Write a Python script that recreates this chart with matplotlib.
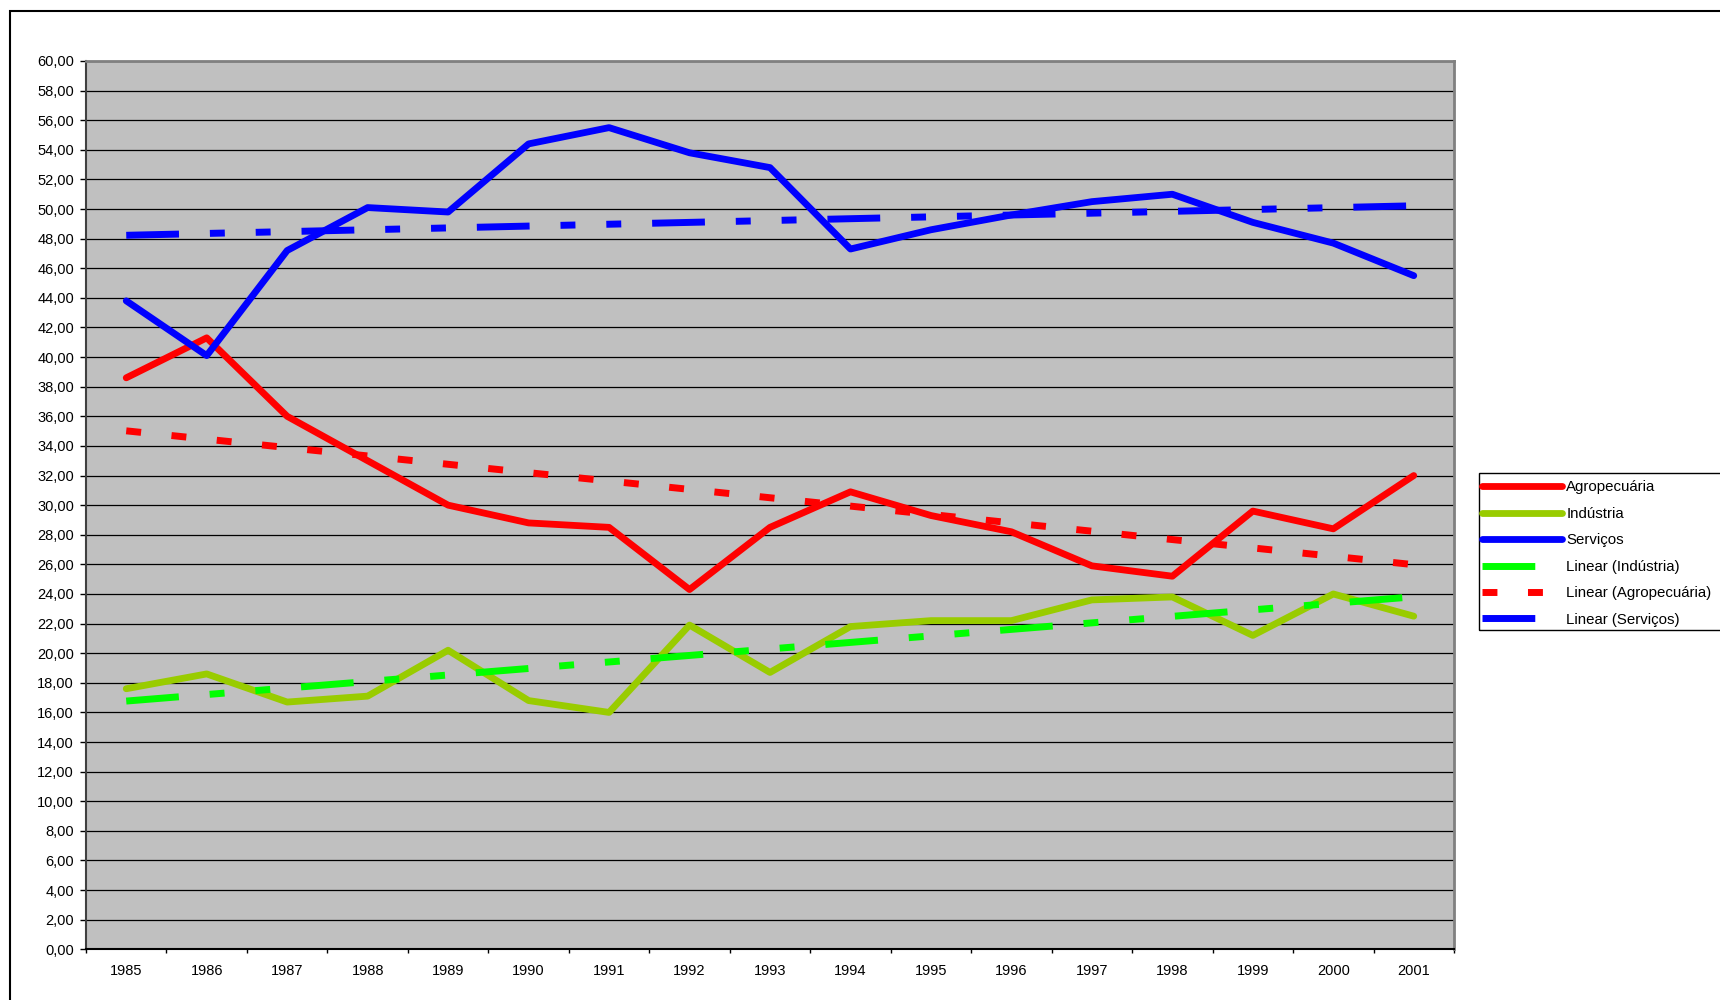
import matplotlib.pyplot as plt
import numpy as np
from matplotlib.patches import Rectangle

plt.rcParams['font.family'] = ['Liberation Sans', 'DejaVu Sans']

# dados (%)
anos = ['1985', '1986', '1987', '1988', '1989', '1990', '1991', '1992', '1993',
        '1994', '1995', '1996', '1997', '1998', '1999', '2000', '2001']
agropecuaria = [38.6, 41.3, 36.0, 33.0, 30.0, 28.8, 28.5, 24.3, 28.5,
                30.9, 29.3, 28.2, 25.9, 25.2, 29.6, 28.4, 32.0]
industria = [17.6, 18.6, 16.7, 17.1, 20.2, 16.8, 16.0, 21.9, 18.7,
             21.8, 22.2, 22.2, 23.6, 23.8, 21.2, 24.0, 22.5]
servicos = [43.8, 40.1, 47.2, 50.1, 49.8, 54.4, 55.5, 53.8, 52.8,
            47.3, 48.6, 49.6, 50.5, 51.0, 49.1, 47.7, 45.5]

W, H = 1720, 1000
fig = plt.figure(figsize=(W / 100, H / 100), dpi=100)
ax = fig.add_axes([86 / W, 50.7 / H, 1368 / W, 888.3 / H])
ax.set_facecolor('#C0C0C0')

x = np.arange(len(anos))

# series
l_agro, = ax.plot(x, agropecuaria, color='#FF0000', lw=4.9,
                  solid_capstyle='round', solid_joinstyle='round', label='Agropecuária')
l_ind, = ax.plot(x, industria, color='#99CC00', lw=4.9,
                 solid_capstyle='round', solid_joinstyle='round', label='Indústria')
l_serv, = ax.plot(x, servicos, color='#0000FF', lw=4.9,
                  solid_capstyle='round', solid_joinstyle='round', label='Serviços')

# linhas de tendencia (regressao linear, como no Excel)
def tendencia(y):
    a, b = np.polyfit(x, y, 1)
    return a * x + b

longo_ponto_ponto = (0, (7.6, 4.45, 2.15, 4.45, 2.15, 4.45))
quadrado = (0, (2.15, 4.4))

t_ind, = ax.plot(x, tendencia(industria), color='#00FF00', lw=5,
                 linestyle=longo_ponto_ponto, dash_capstyle='butt', label='Linear (Indústria)')
t_agro, = ax.plot(x, tendencia(agropecuaria), color='#FF0000', lw=5,
                  linestyle=quadrado, dash_capstyle='butt', label='Linear (Agropecuária)')
t_serv, = ax.plot(x, tendencia(servicos), color='#0000FF', lw=5,
                  linestyle=longo_ponto_ponto, dash_capstyle='butt', label='Linear (Serviços)')

# eixos
ax.set_xlim(-0.5, len(anos) - 0.5)
ax.set_ylim(0, 60)
yt = np.arange(0, 61, 2)
ax.set_yticks(yt, [f'{v:.2f}'.replace('.', ',') for v in yt])
ax.set_xticks(x, anos)
ax.set_xticks(np.arange(-0.5, len(anos), 1), minor=True)
ax.yaxis.grid(True, color='black', lw=0.9)
ax.set_axisbelow(True)

ax.tick_params(axis='x', which='major', length=0, pad=10.5, labelsize=10.5)
ax.tick_params(axis='x', which='minor', length=3, width=1, direction='out', color='black')
ax.tick_params(axis='y', length=4.3, width=1, pad=4.3, labelsize=10.5, color='black')

ax.spines['left'].set_color('#404040')
ax.spines['left'].set_linewidth(1.5)
ax.spines['bottom'].set_color('black')
ax.spines['bottom'].set_linewidth(1.5)
for s in ['top', 'right']:
    ax.spines[s].set_color('#808080')
    ax.spines[s].set_linewidth(2)

# legenda
handles = [l_agro, l_ind, l_serv, t_ind, t_agro, t_serv]
fig.legend(handles, [h.get_label() for h in handles], loc='upper left',
           bbox_to_anchor=(1482 / W, 1 - 480.5 / H), frameon=False,
           borderpad=0, borderaxespad=0, handlelength=5.34, handletextpad=0.27,
           labelspacing=0.83, fontsize=10.8)
fig.add_artist(Rectangle((1479 / W, 1 - 630 / H), 0.2, 157 / H, transform=fig.transFigure,
                         fill=False, ec='black', lw=1, clip_on=False))

# moldura externa do grafico
fig.add_artist(Rectangle((10 / W, -0.1), 1.1, 1.1 - 11 / H, transform=fig.transFigure,
                         fill=False, ec='black', lw=1.5, clip_on=False))

fig.savefig('out.png', dpi=100)
